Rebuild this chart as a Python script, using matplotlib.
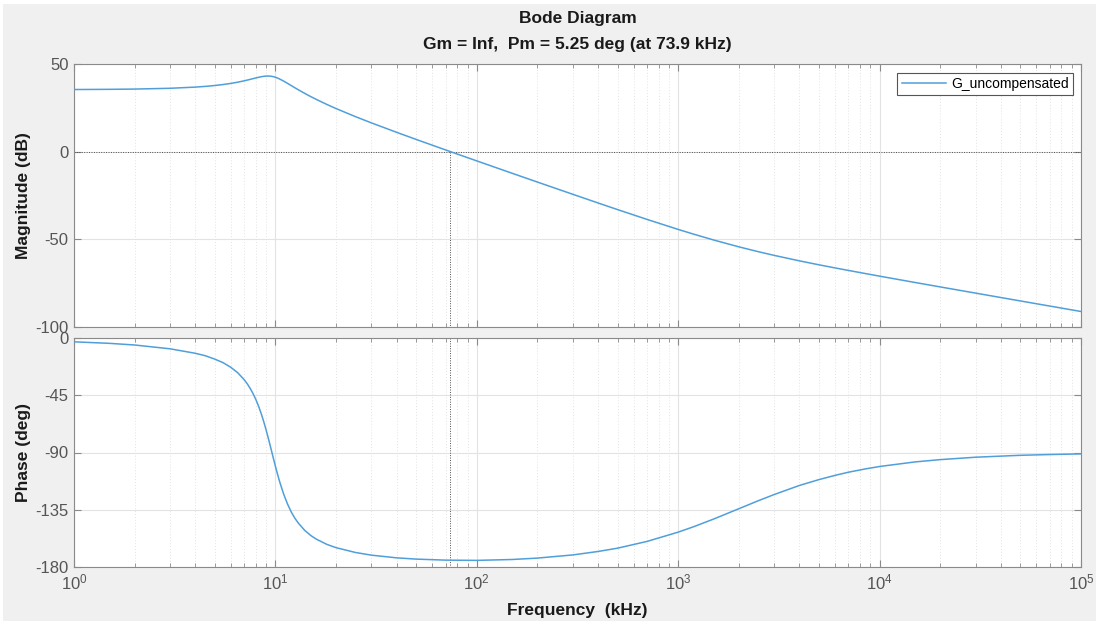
import matplotlib
matplotlib.use("Agg")
import matplotlib.pyplot as plt
from matplotlib.ticker import LogLocator, FixedLocator, NullFormatter
from matplotlib.patches import Rectangle

# values
freq_khz = [1, 1.5, 2, 3, 4, 4.5, 5, 5.5, 6, 6.5, 7, 7.25, 7.5, 7.75, 8, 8.25, 8.5,
            8.75, 9, 9.25, 9.5, 9.75, 10, 10.25, 10.5, 11, 11.5, 12, 12.5, 13, 14,
            15, 16, 18, 20, 25, 30, 40, 50, 70, 100, 150, 200, 300, 400, 500, 700,
            1000, 1200, 1500, 2000, 2500, 3000, 4000, 5000, 6000, 7000, 8500,
            10000, 15000, 20000, 30000, 50000, 70000, 100000]
mag_db = [35.44, 35.55, 35.70, 36.15, 36.82, 37.24, 37.73, 38.29, 38.92, 39.63,
          40.41, 40.82, 41.24, 41.65, 42.05, 42.41, 42.73, 42.97, 43.12, 43.14,
          43.03, 42.80, 42.44, 41.98, 41.44, 40.22, 38.93, 37.66, 36.44, 35.29,
          33.21, 31.37, 29.74, 26.94, 24.59, 19.96, 16.40, 11.03, 6.98, 0.99,
          -5.27, -12.35, -17.34, -24.33, -29.26, -33.04, -38.63, -44.35, -47.13,
          -50.38, -54.28, -57.05, -59.17, -62.28, -64.53, -66.29, -67.73, -69.52,
          -71.00, -74.61, -77.14, -80.68, -85.14, -88.06, -91.16]
phase_deg = [-3.0, -4.2, -5.5, -8.5, -12.0, -14.0, -16.6, -19.4, -23.0, -27.3,
             -32.8, -36.0, -39.7, -43.8, -48.4, -53.6, -59.4, -65.7, -72.5, -79.6,
             -86.8, -94.0, -100.8, -107.1, -113.0, -122.9, -130.7, -136.9, -141.7,
             -145.5, -151.3, -155.3, -158.2, -162.2, -164.8, -168.6, -170.7, -172.8,
             -173.8, -174.6, -174.8, -174.1, -173.0, -170.5, -167.8, -165.2, -159.9,
             -152.6, -148.2, -142.3, -134.2, -127.9, -123.0, -115.9, -111.3, -108.0,
             -105.5, -102.9, -101.0, -97.4, -95.6, -93.7, -92.2, -91.6, -91.1]

mag_ticks = [-100, -50, 0, 50]
phase_ticks = [-180, -135, -90, -45, 0]
crossover_khz = 73.9
series_name = "G_uncompensated"
title_lines = ["Bode Diagram", "Gm = Inf,  Pm = 5.25 deg (at 73.9 kHz)"]

plt.rcParams["font.family"] = ["Liberation Sans", "DejaVu Sans"]
plt.rcParams["mathtext.default"] = "regular"
plt.rcParams["axes.unicode_minus"] = False

W, H = 1096, 621
colors = {
    "bg": "#f0f0f0",
    "line": "#4f9fda",
    "axis": "#8a8a8a",
    "ticklabel": "#555555",
    "grid": "#e3e3e3",
    "margin": "#4d4d4d",
    "text": "#1a1a1a",
}

fig = plt.figure(figsize=(W / 100, H / 100), dpi=100, facecolor=colors["bg"])
# thin white strip at the top/left edge of the screenshot
fig.add_artist(Rectangle((0, 1 - 4 / H), 1, 4 / H, transform=fig.transFigure,
                         facecolor="white", edgecolor="none", zorder=-1))
fig.add_artist(Rectangle((0, 0), 3 / W, 1, transform=fig.transFigure,
                         facecolor="white", edgecolor="none", zorder=-1))

left, right = 74, 1081
ax_mag = fig.add_axes([left / W, 1 - 327 / H, (right - left) / W, (327 - 64) / H])
ax_ph = fig.add_axes([left / W, 1 - 567 / H, (right - left) / W, (567 - 338) / H],
                     sharex=ax_mag)


def style_axes(ax, yticks, ylim):
    ax.set_facecolor("white")
    ax.set_xscale("log")
    ax.set_xlim(1, 1e5)
    ax.set_ylim(*ylim)
    ax.yaxis.set_major_locator(FixedLocator(yticks))
    ax.xaxis.set_major_locator(LogLocator(base=10, numticks=10))
    ax.xaxis.set_minor_locator(LogLocator(base=10, subs=range(2, 10), numticks=100))
    ax.xaxis.set_minor_formatter(NullFormatter())
    for s in ax.spines.values():
        s.set_color(colors["axis"])
        s.set_linewidth(0.8)
    ax.tick_params(which="both", direction="in", top=True, right=True,
                   color=colors["axis"], labelcolor=colors["ticklabel"],
                   labelsize=12)
    ax.tick_params(which="major", length=5, width=0.8, pad=4)
    ax.tick_params(which="minor", length=3, width=0.6)
    ax.grid(which="major", color=colors["grid"], linewidth=0.8, linestyle="-")
    ax.grid(which="minor", axis="x", color=colors["grid"], linewidth=0.7,
            linestyle=(0, (1, 2)))
    ax.set_axisbelow(True)


style_axes(ax_mag, mag_ticks, (-100, 50))
style_axes(ax_ph, phase_ticks, (-180, 0))
ax_mag.tick_params(labelbottom=False)

dot = (0, (1, 1.5))
ax_mag.plot(freq_khz, mag_db, color=colors["line"], linewidth=1.1, label=series_name, zorder=3)
ax_mag.axhline(0, color=colors["margin"], linewidth=0.7, linestyle=dot, zorder=2)
ax_mag.plot([crossover_khz, crossover_khz], [0, -100], color=colors["margin"],
            linewidth=0.7, linestyle=dot, zorder=2)

ax_ph.plot(freq_khz, phase_deg, color=colors["line"], linewidth=1.1, zorder=3)
ax_ph.axhline(-180, color=colors["margin"], linewidth=0.7, linestyle=dot,
              zorder=2, clip_on=False)
ax_ph.plot([crossover_khz, crossover_khz], [0, -180], color=colors["margin"],
           linewidth=0.7, linestyle=dot, zorder=2)

leg = ax_mag.legend(loc="upper right", bbox_to_anchor=(0.9925, 0.967), fontsize=10,
                    frameon=True, fancybox=False, framealpha=1, handlelength=3.2,
                    handletextpad=0.4, borderpad=0.3, borderaxespad=0)
leg.get_frame().set_edgecolor("#555555")
leg.get_frame().set_linewidth(0.8)

cx = (left + right) / 2 / W
fig.text(cx, 1 - 19 / H, title_lines[0], ha="center", va="center",
         fontsize=12.5, fontweight="bold", color=colors["text"])
fig.text(cx, 1 - 44 / H, title_lines[1], ha="center", va="center",
         fontsize=12.5, fontweight="bold", color=colors["text"])
fig.text(24 / W, 1 - 195.5 / H, "Magnitude (dB)", rotation=90, ha="center",
         va="center", fontsize=12.5, fontweight="bold", color=colors["text"])
fig.text(24 / W, 1 - 452.5 / H, "Phase (deg)", rotation=90, ha="center",
         va="center", fontsize=12.5, fontweight="bold", color=colors["text"])
fig.text(cx, 1 - 610 / H, "Frequency  (kHz)", ha="center", va="center",
         fontsize=12.5, fontweight="bold", color=colors["text"])

fig.savefig("out.png", dpi=100, facecolor=fig.get_facecolor())
